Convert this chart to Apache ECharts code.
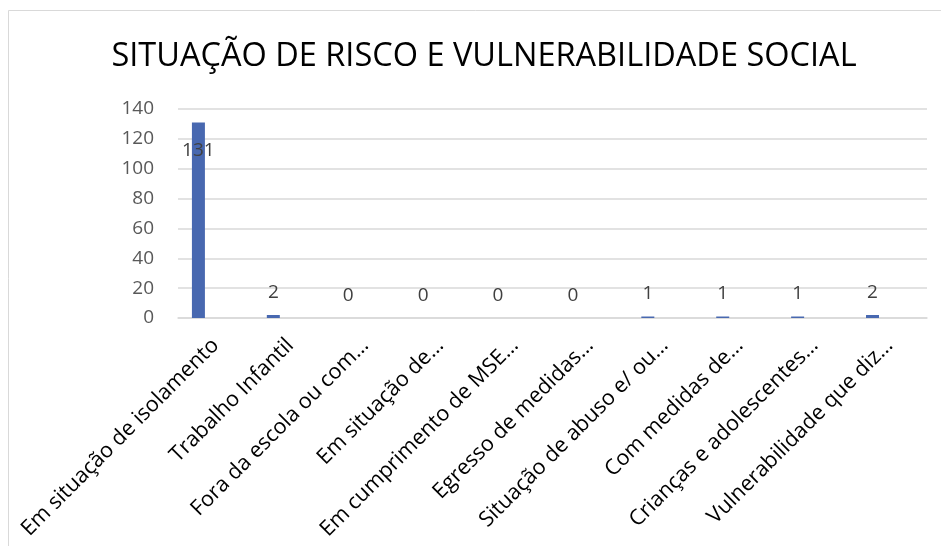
<!DOCTYPE html>
<html>
<head>
<meta charset="utf-8">
<script src="https://cdn.jsdelivr.net/npm/echarts@6/dist/echarts.min.js"></script>
<style>html,body{margin:0;padding:0;background:#fff;}#c{width:941px;height:546px;}</style>
</head>
<body>
<div id="c"></div>
<script>
const titleText = 'SITUAÇÃO DE RISCO E VULNERABILIDADE SOCIAL';
const categories = [
  'Em situação de isolamento',
  'Trabalho Infantil',
  'Fora da escola ou com…',
  'Em situação de…',
  'Em cumprimento de MSE…',
  'Egresso de medidas…',
  'Situação de abuso e/ ou…',
  'Com medidas de…',
  'Crianças e adolescentes…',
  'Vulnerabilidade que diz…'
];
const values = [131, 2, 0, 0, 0, 0, 1, 1, 1, 2];
const yTicks = { min: 0, max: 140, interval: 20 };

const FONT = 'Open Sans';
const chart = echarts.init(document.getElementById('c'), null, { renderer: 'canvas' });

const barData = values.map((v, i) => {
  if (i === 0) {
    return { value: v, label: { position: 'insideTop', distance: 19 } };
  }
  return v;
});

chart.setOption({
  animation: false,
  backgroundColor: '#ffffff',
  graphic: [{
    type: 'rect',
    shape: { x: 8.5, y: 10.5, width: 940, height: 560 },
    style: { fill: 'none', stroke: '#d9d9d9', lineWidth: 1 },
    silent: true
  }],
  title: {
    text: titleText,
    left: 479,
    top: 35,
    textAlign: 'center',
    textStyle: { fontFamily: FONT, fontSize: 32.5, fontWeight: 'normal', color: '#000000' }
  },
  grid: { left: 178, right: 14, top: 109, bottom: 228, containLabel: false },
  xAxis: {
    type: 'category',
    data: categories,
    axisLine: { show: true, lineStyle: { color: '#d9d9d9', width: 1.5 } },
    axisTick: { show: false },
    axisLabel: {
      interval: 0,
      rotate: 45,
      margin: 24,
      fontFamily: FONT,
      fontSize: 21.5,
      color: '#000000'
    }
  },
  yAxis: {
    type: 'value',
    min: yTicks.min,
    max: yTicks.max,
    interval: yTicks.interval,
    axisLine: { show: false },
    axisTick: { show: false },
    splitLine: { lineStyle: { color: '#d9d9d9', width: 1.5 } },
    axisLabel: { margin: 24, fontFamily: FONT, fontSize: 19, color: '#595959' }
  },
  series: [
    {
      type: 'bar',
      data: barData,
      barWidth: 13,
      barGap: '162%',
      itemStyle: { color: '#4868B0' },
      label: {
        show: true,
        position: 'top',
        distance: 13,
        fontFamily: FONT,
        fontSize: 19,
        color: '#404040'
      }
    },
    {
      type: 'bar',
      data: [],
      barWidth: 13
    }
  ]
});
</script>
</body>
</html>
